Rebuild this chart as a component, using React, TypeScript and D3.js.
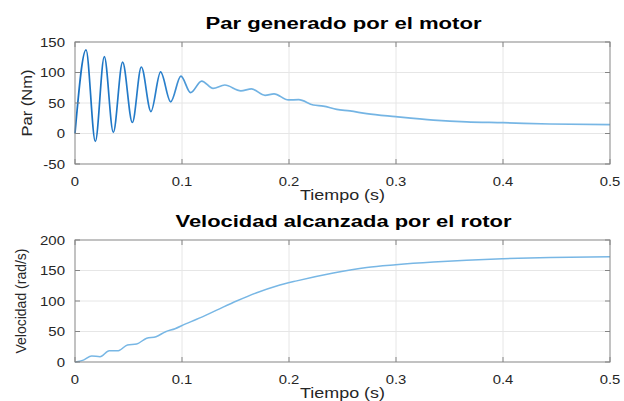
import React from "react";
import * as d3 from "d3";

// ---- Data ----
const parTime = [0, 0.0103, 0.019, 0.0274, 0.0358, 0.0445, 0.0536, 0.062, 0.071, 0.08, 0.0894, 0.099, 0.108, 0.1184, 0.129, 0.14, 0.155, 0.165, 0.1776, 0.186, 0.1994, 0.209, 0.2227, 0.232, 0.2446, 0.257, 0.2726, 0.2997, 0.335, 0.366, 0.4, 0.444, 0.5];
const parValue = [0, 137, -13, 126, 2, 117, 18, 109, 36, 101, 52, 94, 67, 86, 74, 79.5, 70, 73, 62.6, 65, 55, 55.5, 46.7, 45, 39.6, 37, 32.5, 27.6, 22, 19, 17.7, 15.6, 14.5];

const velTime = [0, 0.0078, 0.0156, 0.0234, 0.032, 0.0405, 0.049, 0.0576, 0.067, 0.0757, 0.0847, 0.0935, 0.1028, 0.1137, 0.1324, 0.151, 0.1698, 0.1885, 0.2072, 0.2414, 0.2726, 0.2997, 0.335, 0.366, 0.4, 0.444, 0.5];
const velValue = [0, 3, 10, 8.7, 18.5, 18.5, 28, 29.5, 39, 41.5, 49.7, 54.6, 62, 70, 85, 100, 113.6, 124.6, 133, 146, 155, 159.5, 164, 167, 169.3, 171.3, 172.7];

const xTicks = [0, 0.1, 0.2, 0.3, 0.4, 0.5];
const xTickLabels = ["0", "0.1", "0.2", "0.3", "0.4", "0.5"];
const parTicks = [-50, 0, 50, 100, 150];
const velTicks = [0, 50, 100, 150, 200];

const titles = ["Par generado por el motor", "Velocidad alcanzada por el rotor"];
const xLabel = "Tiempo (s)";
const yLabels = ["Par (Nm)", "Velocidad (rad/s)"];

const FONT = "'Liberation Sans', Arial, Helvetica, sans-serif";
const AX = "#858585";
const GRID = "#e6e6e6";
const TXT = "#262626";

function Panel(props: {
  top: number;
  bottom: number;
  yDomain: [number, number];
  yTicks: number[];
  times: number[];
  values: number[];
  title: string;
  titleLen: number;
  yLabel: string;
  yLabelLen: number;
  yLabelX: number;
  yLabelSize: number;
  gradient: boolean;
  id: string;
}) {
  const left = 75;
  const right = 610;
  const x = d3.scaleLinear().domain([0, 0.5]).range([left, right]);
  const y = d3.scaleLinear().domain(props.yDomain).range([props.bottom, props.top]);
  const pts: [number, number][] = props.times.map((t, i) => [t, props.values[i]]);
  const line = d3
    .line<[number, number]>()
    .x((d) => x(d[0]))
    .y((d) => y(d[1]))
    .curve(d3.curveMonotoneX);
  const tl = 5;
  const cx = (left + right) / 2;
  return (
    <g>
      {props.gradient && (
        <defs>
          <linearGradient id={props.id} gradientUnits="userSpaceOnUse" x1={x(0)} x2={x(0.5)} y1={0} y2={0}>
            <stop offset={0} stopColor="#1a72c2" />
            <stop offset={0.17} stopColor="#2a80cc" />
            <stop offset={0.25} stopColor="#72b3e3" />
            <stop offset={1} stopColor="#78b7e5" />
          </linearGradient>
        </defs>
      )}
      <rect x={left} y={props.top} width={right - left} height={props.bottom - props.top} fill="#fff" />
      {xTicks.slice(1, -1).map((t) => (
        <line key={"gx" + t} x1={x(t)} x2={x(t)} y1={props.top} y2={props.bottom} stroke={GRID} strokeWidth={1} />
      ))}
      {props.yTicks.slice(1, -1).map((v) => (
        <line key={"gy" + v} x1={left} x2={right} y1={y(v)} y2={y(v)} stroke={GRID} strokeWidth={1} />
      ))}
      <path
        d={line(pts) || ""}
        fill="none"
        stroke={props.gradient ? `url(#${props.id})` : "#78b7e5"}
        strokeWidth={props.gradient ? 1.7 : 1.5}
        strokeLinejoin="round"
      />
      <rect x={left} y={props.top} width={right - left} height={props.bottom - props.top} fill="none" stroke={AX} strokeWidth={1} />
      {xTicks.map((t) => (
        <g key={"tx" + t}>
          <line x1={x(t)} x2={x(t)} y1={props.bottom} y2={props.bottom - tl} stroke={AX} />
          <line x1={x(t)} x2={x(t)} y1={props.top} y2={props.top + tl} stroke={AX} />
        </g>
      ))}
      {props.yTicks.map((v) => (
        <g key={"ty" + v}>
          <line x1={left} x2={left + tl} y1={y(v)} y2={y(v)} stroke={AX} />
          <line x1={right} x2={right - tl} y1={y(v)} y2={y(v)} stroke={AX} />
        </g>
      ))}
      {xTicks.map((t, i) => (
        <text
          key={"lx" + t}
          transform={`translate(${x(t)},${props.bottom + 22}) scale(1.16,1)`}
          textAnchor="middle"
          fontFamily={FONT}
          fontSize={12.8}
          fill={TXT}
        >
          {xTickLabels[i]}
        </text>
      ))}
      {props.yTicks.map((v) => (
        <text
          key={"ly" + v}
          transform={`translate(${left - 10},${y(v) + 4.5}) scale(1.17,1)`}
          textAnchor="end"
          fontFamily={FONT}
          fontSize={12.8}
          fill={TXT}
        >
          {String(v)}
        </text>
      ))}
      <text
        x={cx}
        y={props.bottom + 36}
        textAnchor="middle"
        fontFamily={FONT}
        fontSize={14.5}
        fill={TXT}
        textLength={85}
        lengthAdjust="spacingAndGlyphs"
      >
        {xLabel}
      </text>
      <text
        transform={`translate(${props.yLabelX},${(props.top + props.bottom) / 2}) rotate(-90)`}
        textAnchor="middle"
        fontFamily={FONT}
        fontSize={props.yLabelSize}
        fill={TXT}
        textLength={props.yLabelLen}
        lengthAdjust="spacingAndGlyphs"
      >
        {props.yLabel}
      </text>
      <text
        x={cx + 1}
        y={props.top - 13}
        textAnchor="middle"
        fontFamily={FONT}
        fontSize={16}
        fontWeight="bold"
        fill="#000"
        textLength={props.titleLen}
        lengthAdjust="spacingAndGlyphs"
      >
        {props.title}
      </text>
    </g>
  );
}

export default function App() {
  return (
    <svg width={624} height={401} style={{ position: "absolute", left: 0, top: 0, background: "#fff" }}>
      <rect x={0} y={0} width={624} height={401} fill="#fff" />
      <Panel
        id="g1"
        top={42}
        bottom={164}
        yDomain={[-50, 150]}
        yTicks={parTicks}
        times={parTime}
        values={parValue}
        title={titles[0]}
        titleLen={276}
        yLabel={yLabels[0]}
        yLabelLen={67}
        yLabelX={31.5}
        yLabelSize={15}
        gradient={true}
      />
      <Panel
        id="g2"
        top={240}
        bottom={362}
        yDomain={[0, 200]}
        yTicks={velTicks}
        times={velTime}
        values={velValue}
        title={titles[1]}
        titleLen={336}
        yLabel={yLabels[1]}
        yLabelLen={105}
        yLabelX={26}
        yLabelSize={14}
        gradient={false}
      />
    </svg>
  );
}
